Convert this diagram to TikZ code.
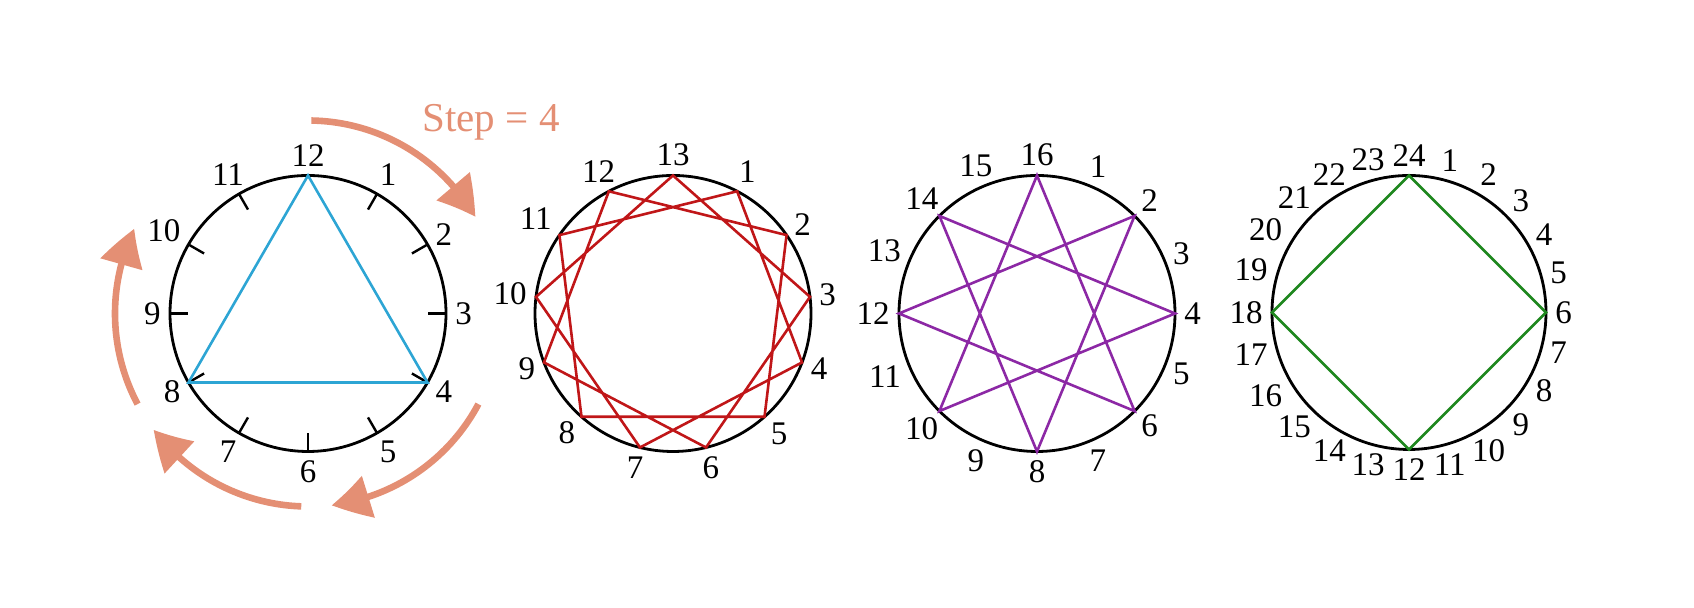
\documentclass[tikz,border=0pt]{standalone}
\usepackage{fontspec}
\setmainfont{Liberation Serif}
\usetikzlibrary{arrows.meta,bending}
\definecolor{salmon}{RGB}{228,143,116}
\definecolor{triblue}{RGB}{45,165,212}
\definecolor{starred}{RGB}{192,22,24}
\definecolor{starpurple}{RGB}{140,40,165}
\definecolor{sqgreen}{RGB}{30,135,30}
\begin{document}
\begin{tikzpicture}[x=0.5pt,y=0.5pt,
  rim/.style={line width=1.4pt},
  numlabel/.style={inner sep=0pt,font=\fontsize{16.5}{19}\selectfont},
  tickmark/.style={line width=1.2pt},
  polyline/.style={line width=1.3pt,line join=miter},
  steparrow/.style={salmon,line width=3.3pt,-{Triangle[length=19pt,width=21pt,bend]}}]
\useasboundingbox (0,0) rectangle (1694,608);
% centres
\coordinate (c1) at (308,294.5);
\coordinate (c2) at (673,294.5);
\coordinate (c3) at (1037,294.5);
\coordinate (c4) at (1409,295.5);
% ---------- circle 1 : 12 ----------
\draw[rim] (c1) circle[radius=138];
\foreach \k [evaluate=\k as \ang using 90-\k*30,
             evaluate=\k as \opp using 270-\k*30] in {1,...,12}{
  \coordinate (A\k) at ([shift={(\ang:138)}]c1);
  \coordinate (TA\k) at ([shift={(\ang:120)}]c1);
  \node[numlabel,anchor=\opp] (LA\k) at ([shift={(\ang:147)}]c1) {\k};
}
\foreach \k in {1,...,11}{\draw[tickmark] (A\k) -- (TA\k);}
\draw[polyline,triblue] (A12) -- (A4) -- (A8) -- cycle;
% arrows round circle 1
\draw[steparrow] ([shift={(89:193)}]c1) arc[start angle=89,end angle=30,radius=193];
\draw[steparrow] ([shift={(-28:193)}]c1) arc[start angle=-28,end angle=-83,radius=193];
\draw[steparrow] ([shift={(-92:193)}]c1) arc[start angle=-92,end angle=-143,radius=193];
\draw[steparrow] ([shift={(208:193)}]c1) arc[start angle=208,end angle=154,radius=193];
\node[salmon,font=\fontsize{20.5}{24}\selectfont] (steptext) at (491,486) {Step = 4};
% ---------- circle 2 : 13 ----------
\draw[rim] (c2) circle[radius=138];
\foreach \k [evaluate=\k as \ang using 90-\k*360/13,
             evaluate=\k as \opp using 270-\k*360/13] in {1,...,13}{
  \coordinate (B\k) at ([shift={(\ang:138)}]c2);
  \node[numlabel,anchor=\opp] (LB\k) at ([shift={(\ang:147)}]c2) {\k};
}
\draw[polyline,starred] (B13) \foreach \k in {3,6,9,12,2,5,8,11,1,4,7,10}{-- (B\k)} -- cycle;
% ---------- circle 3 : 16 ----------
\draw[rim] (c3) circle[radius=138];
\foreach \k [evaluate=\k as \ang using 90-\k*22.5,
             evaluate=\k as \opp using 270-\k*22.5] in {1,...,16}{
  \coordinate (C\k) at ([shift={(\ang:138)}]c3);
  \node[numlabel,anchor=\opp] (LC\k) at ([shift={(\ang:147)}]c3) {\k};
}
\draw[polyline,starpurple] (C16) \foreach \k in {6,12,2,8,14,4,10}{-- (C\k)} -- cycle;
% ---------- circle 4 : 24 ----------
\draw[rim] (c4) circle[radius=137];
\foreach \k [evaluate=\k as \ang using 90-\k*15,
             evaluate=\k as \opp using 270-\k*15] in {1,...,24}{
  \coordinate (D\k) at ([shift={(\ang:137)}]c4);
  \node[numlabel,anchor=\opp] (LD\k) at ([shift={(\ang:146)}]c4) {\k};
}
\draw[polyline,sqgreen] (D24) -- (D6) -- (D12) -- (D18) -- cycle;
\end{tikzpicture}
\end{document}
